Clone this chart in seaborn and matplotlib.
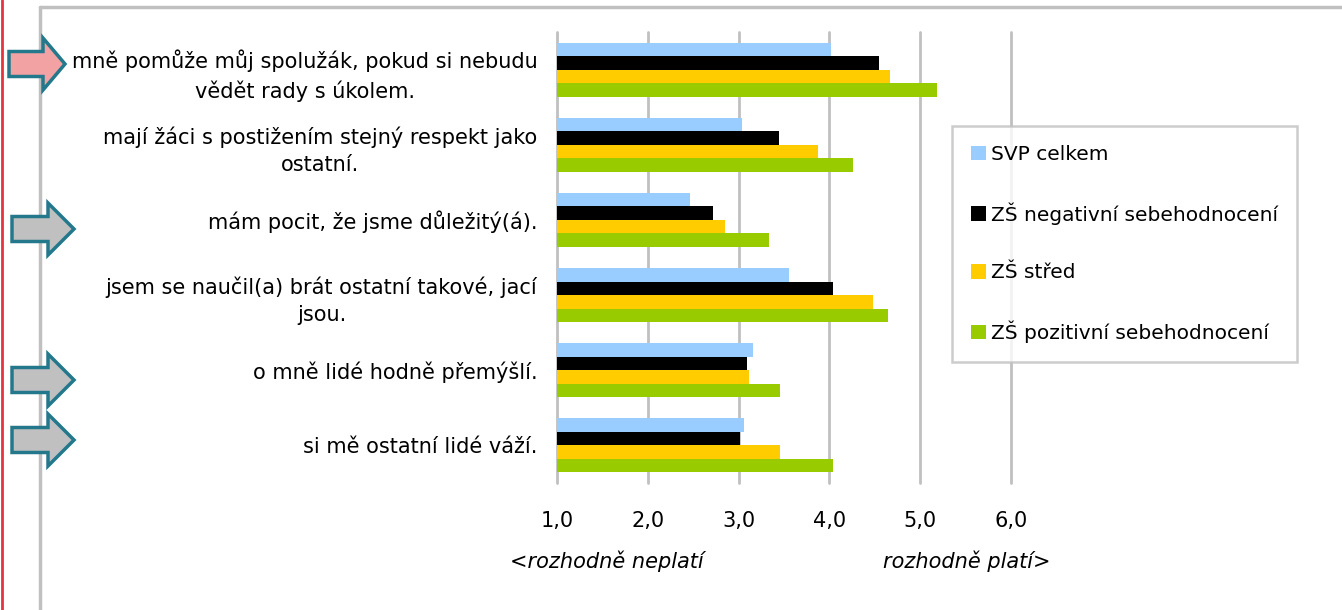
import matplotlib
matplotlib.use("Agg")
import matplotlib.pyplot as plt
from matplotlib.patches import Polygon
from matplotlib.lines import Line2D
import seaborn as sns
import pandas as pd

# data
statements = [
    "mně pomůže můj spolužák, pokud si nebudu\nvědět rady s úkolem.",
    "mají žáci s postižením stejný respekt jako\nostatní.",
    "mám pocit, že jsme důležitý(á).",
    "jsem se naučil(a) brát ostatní takové, jací\njsou.",
    "o mně lidé hodně přemýšlí.",
    "si mě ostatní lidé váží.",
]
series = ["SVP celkem", "ZŠ negativní sebehodnocení", "ZŠ střed", "ZŠ pozitivní sebehodnocení"]
svp_celkem = [4.02, 3.04, 2.46, 3.56, 3.16, 3.06]
zs_negativni = [4.55, 3.44, 2.72, 4.04, 3.09, 3.02]
zs_stred = [4.67, 3.87, 2.85, 4.48, 3.12, 3.46]
zs_pozitivni = [5.19, 4.26, 3.34, 4.65, 3.46, 4.04]
colors = ["#99CCFF", "#000000", "#FFCC00", "#99CC00"]
x_ticks = [1, 2, 3, 4, 5, 6]

rows = []
for name, vals in zip(series, [svp_celkem, zs_negativni, zs_stred, zs_pozitivni]):
    for st, v in zip(statements, vals):
        rows.append({"vyrok": st, "skupina": name, "hodnota": v})
df = pd.DataFrame(rows)

sns.set_style("white")
plt.rcParams["font.family"] = ["DejaVu Sans"]
plt.rcParams["text.color"] = "black"
plt.rcParams["xtick.color"] = "black"
plt.rcParams["ytick.color"] = "black"
fs = 15

W, H = 1342, 610
fig = plt.figure(figsize=(W / 100, H / 100), dpi=100)
ax = fig.add_axes([557 / W, 1 - 483 / H, (1011 - 557) / W, (483 - 32) / H])

sns.barplot(data=df, y="vyrok", x="hodnota", hue="skupina", order=statements,
            hue_order=series, palette=colors, orient="h", width=0.72,
            saturation=1, linewidth=0, ax=ax)

ax.set_xlim(1, 6)
ax.set_xticks(x_ticks)
ax.set_xticklabels([f"{v:.1f}".replace(".", ",") for v in x_ticks], fontsize=fs)
ax.xaxis.grid(True, color="#C0C0C0", linewidth=2)
for g in ax.get_xgridlines():
    g.set_clip_on(False)
ax.set_axisbelow(True)
for s in ax.spines.values():
    s.set_visible(False)
ax.tick_params(axis="x", length=0, pad=20)
ax.tick_params(axis="y", length=0, pad=14, labelsize=fs)
for t in ax.get_yticklabels():
    t.set_multialignment("center")
    t.set_linespacing(1.45)
ax.set_xlabel("")
ax.set_ylabel("")

handles, labels = ax.get_legend_handles_labels()
leg = ax.legend(handles, labels, loc="upper left",
                bbox_to_anchor=(952 / W, 1 - 126 / H), bbox_transform=fig.transFigure,
                frameon=True, fancybox=False, edgecolor="#C0C0C0", fontsize=14.5,
                handlelength=0.75, handleheight=0.75, handletextpad=0.25,
                labelspacing=1.9, borderpad=0.95, borderaxespad=0)
leg.get_frame().set_linewidth(1.8)

fig.text(607 / W, 1 - 561 / H, "<rozhodně neplatí", style="italic",
         ha="center", va="center", fontsize=fs)
fig.text(967 / W, 1 - 561 / H, "rozhodně platí>", style="italic",
         ha="center", va="center", fontsize=fs)

# frame lines around the slide area
fig.add_artist(Line2D([40 / W, 40 / W], [0, 1 - 7 / H], color="#C0C0C0", linewidth=2.5))
fig.add_artist(Line2D([40 / W, 1], [1 - 7 / H, 1 - 7 / H], color="#C0C0C0", linewidth=2.5))
fig.add_artist(Line2D([2 / W, 2 / W], [0, 1], color="#E8333F", linewidth=2))


# arrows pointing at selected statements
def arrow(x0, xb, xt, yc, fill):
    pts = [(x0, yc - 12.5), (xb, yc - 12.5), (xb, yc - 26), (xt, yc),
           (xb, yc + 26), (xb, yc + 12.5), (x0, yc + 12.5)]
    pts = [(x / W, 1 - y / H) for x, y in pts]
    fig.add_artist(Polygon(pts, closed=True, facecolor=fill, edgecolor="#23788C",
                           linewidth=2.5, transform=fig.transFigure, zorder=5))


arrow(9, 43, 65, 64, "#F2A2A2")
arrow(12, 48, 74, 229, "#C0C0C0")
arrow(12, 48, 74, 380, "#C0C0C0")
arrow(12, 48, 74, 440, "#C0C0C0")

fig.savefig("out.png", dpi=100)
